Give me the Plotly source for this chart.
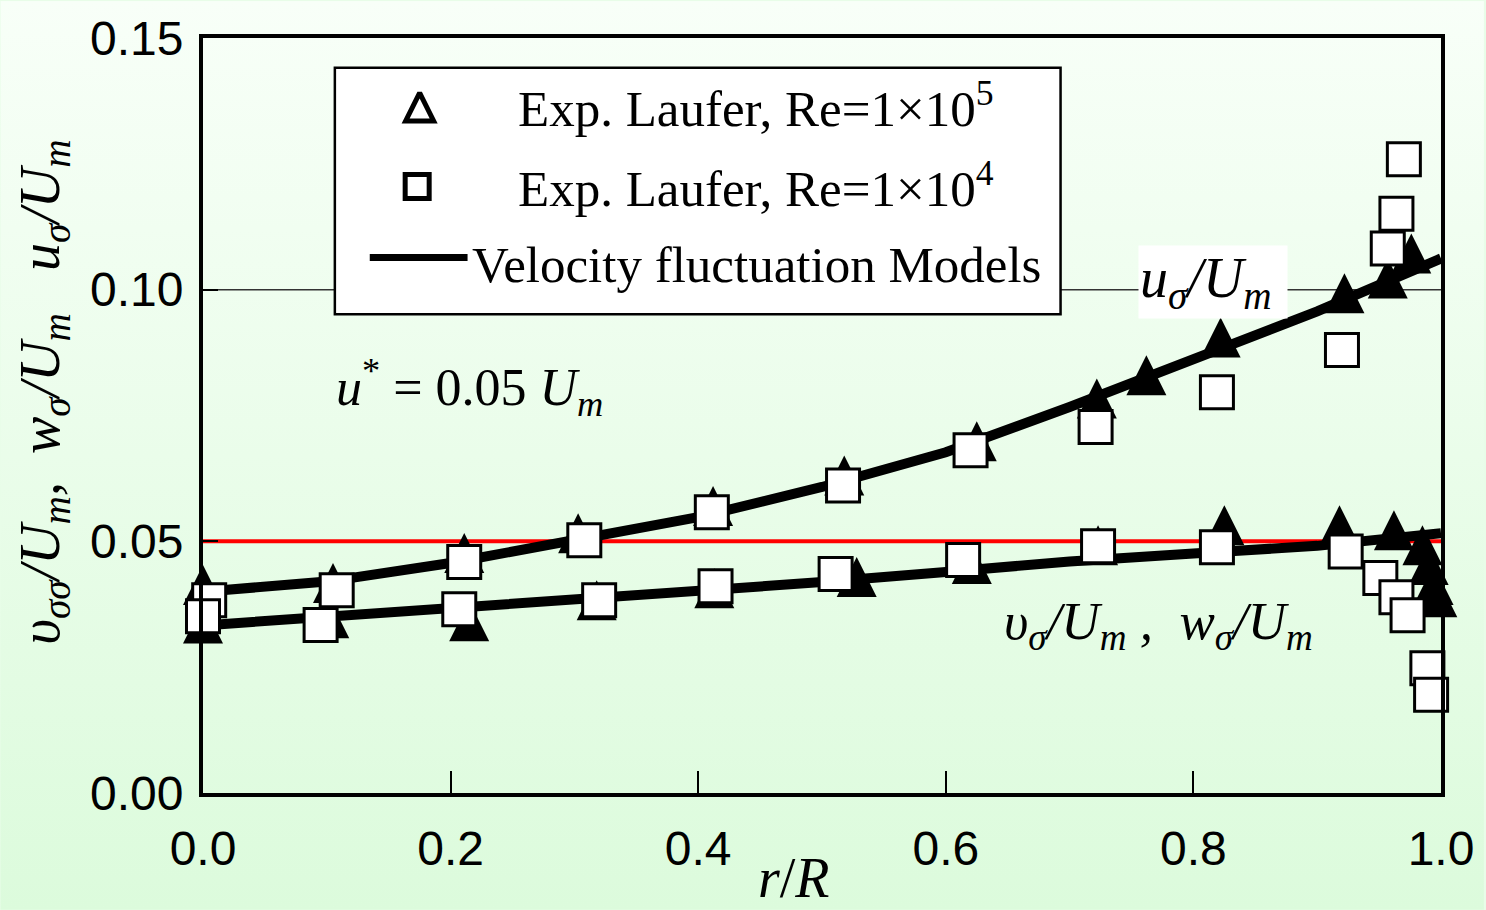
import base64
import plotly.graph_objects as go

# ---------------- data ----------------
r_model = [0.0, 0.1, 0.2, 0.3, 0.4, 0.5, 0.6, 0.7, 0.8, 0.9, 1.0]
u_model = [0.0400, 0.0420, 0.0457, 0.0500, 0.0548, 0.0608, 0.0677, 0.0767, 0.0862, 0.0957, 0.1062]
v_model = [0.0333, 0.0350, 0.0366, 0.0383, 0.0398, 0.0419, 0.0439, 0.0460, 0.0476, 0.0491, 0.0516]

r_tri_u = [0.0, 0.105, 0.211, 0.303, 0.412, 0.518, 0.625, 0.722, 0.762, 0.822, 0.922, 0.957, 0.976]
u_tri = [0.0413, 0.0417, 0.0477, 0.0516, 0.0570, 0.0631, 0.0699, 0.0784, 0.0830, 0.0905, 0.0993, 0.1022, 0.1072]

r_tri_v = [0.0, 0.102, 0.215, 0.318, 0.413, 0.528, 0.621, 0.723, 0.825, 0.918, 0.962, 0.985, 0.990, 0.994, 0.997]
v_tri = [0.0337, 0.0347, 0.0341, 0.0383, 0.0407, 0.0429, 0.0455, 0.0492, 0.0532, 0.0532, 0.0522, 0.0492, 0.0453, 0.0413, 0.0389]

r_sq_u = [0.005, 0.108, 0.211, 0.308, 0.411, 0.517, 0.620, 0.721, 0.819, 0.920, 0.957, 0.964, 0.970]
u_sq = [0.0383, 0.0403, 0.0459, 0.0502, 0.0558, 0.0611, 0.0681, 0.0727, 0.0796, 0.0880, 0.1082, 0.1151, 0.1259]

r_sq_v = [0.0, 0.095, 0.207, 0.320, 0.414, 0.511, 0.614, 0.723, 0.819, 0.923, 0.951, 0.964, 0.973, 0.989, 0.992]
v_sq = [0.0351, 0.0334, 0.0365, 0.0383, 0.0411, 0.0435, 0.0463, 0.0490, 0.0488, 0.0480, 0.0427, 0.0389, 0.0353, 0.0248, 0.0195]

x_ticks = [0.0, 0.2, 0.4, 0.6, 0.8, 1.0]
y_ticks = [0.00, 0.05, 0.10, 0.15]
u_star = 0.05

legend_labels = ["Exp. Laufer, Re=1×10<sup>5</sup>",
                 "Exp. Laufer, Re=1×10<sup>4</sup>",
                 "Velocity fluctuation Models"]

# ---------------- figure ----------------
W, H = 1486, 910
ML, MR, MT, MB = 203, 43, 37, 117
PW, PH = W - ML - MR, H - MT - MB

fig = go.Figure()

tri_marker = dict(symbol="arrow-down", angle=180, size=40, standoff=20, color="black")
sq_marker = dict(symbol="square", size=33, color="white", line=dict(color="black", width=3))

fig.add_trace(go.Scatter(x=r_tri_u, y=u_tri, mode="markers", marker=tri_marker,
                         cliponaxis=False, showlegend=False))
fig.add_trace(go.Scatter(x=r_tri_v, y=v_tri, mode="markers", marker=tri_marker,
                         cliponaxis=False, showlegend=False))
fig.add_trace(go.Scatter(x=r_model, y=u_model, mode="lines", line=dict(color="black", width=10),
                         cliponaxis=False, showlegend=False))
fig.add_trace(go.Scatter(x=r_model, y=v_model, mode="lines", line=dict(color="black", width=10),
                         cliponaxis=False, showlegend=False))
fig.add_trace(go.Scatter(x=r_sq_u, y=u_sq, mode="markers", marker=sq_marker,
                         cliponaxis=False, showlegend=False))
fig.add_trace(go.Scatter(x=r_sq_v, y=v_sq, mode="markers", marker=sq_marker,
                         cliponaxis=False, showlegend=False))

# legend symbols (drawn on top of the legend box)
fig.add_trace(go.Scatter(x=[0.175], y=[0.1363], mode="markers",
                         marker=dict(symbol="arrow-down-open", angle=180, size=28, standoff=14,
                                     color="black", line=dict(color="black", width=5)),
                         cliponaxis=False, showlegend=False))
fig.add_trace(go.Scatter(x=[0.173], y=[0.1205], mode="markers",
                         marker=dict(symbol="square-open", size=24, color="black",
                                     line=dict(color="black", width=5)),
                         cliponaxis=False, showlegend=False))
fig.add_trace(go.Scatter(x=[0.1347, 0.2137], y=[0.1064, 0.1064], mode="lines",
                         line=dict(color="black", width=7),
                         cliponaxis=False, showlegend=False))

# reference lines
fig.add_shape(type="line", xref="x", yref="y", x0=0, x1=1, y0=0.10, y1=0.10,
              line=dict(color="#333333", width=1.5), layer="below")
fig.add_shape(type="line", xref="x", yref="y", x0=0, x1=1, y0=u_star, y1=u_star,
              line=dict(color="#ff0000", width=4), layer="below")
# legend box
fig.add_shape(type="rect", xref="x", yref="y", x0=0.1065, x1=0.6927, y0=0.0951, y1=0.1441,
              line=dict(color="black", width=2.5), fillcolor="white", layer="between")

serif = "Liberation Serif"
ann = []
ann.append(dict(x=0.2532, y=0.1366, text=legend_labels[0], xanchor="left", yanchor="middle"))
ann.append(dict(x=0.2532, y=0.1207, text=legend_labels[1], xanchor="left", yanchor="middle"))
ann.append(dict(x=0.2153, y=0.1050, text=legend_labels[2], xanchor="left", yanchor="middle"))
for a in ann:
    fig.add_annotation(xref="x", yref="y", showarrow=False,
                       font=dict(family=serif, size=51, color="black"), **a)

fig.add_annotation(xref="x", yref="y", x=0.2155, y=0.0805, showarrow=False,
                   xanchor="center", yanchor="middle",
                   text="<i>u</i><sup>*</sup>\u00a0=\u00a00.05\u00a0<i>U<sub>m</sub></i>",
                   font=dict(family=serif, size=52, color="black"))
fig.add_annotation(xref="x", yref="y", x=0.8155, y=0.1015, showarrow=False,
                   xanchor="center", yanchor="middle",
                   text="<i>u<sub>σ</sub>/U<sub>m</sub></i>\u00a0", bgcolor="white",
                   font=dict(family=serif, size=56, color="black"))
fig.add_annotation(xref="x", yref="y", x=0.772, y=0.0334, showarrow=False,
                   xanchor="center", yanchor="middle",
                   text="<i>υ<sub>σ</sub>/U<sub>m</sub>\u00a0,\u00a0\u00a0w<sub>σ</sub>/U<sub>m</sub></i>",
                   font=dict(family=serif, size=53, color="black"))
# axis titles
fig.add_annotation(xref="paper", yref="paper", x=(795 - ML) / PW, y=(MT + PH - 878) / PH,
                   xanchor="center", yanchor="middle",
                   showarrow=False, text="<i>r</i>/<i>R</i>",
                   font=dict(family=serif, size=56, color="black"))
fig.add_annotation(xref="paper", yref="paper", x=(43 - ML) / PW, y=(MT + PH - 392) / PH,
                   xanchor="center", yanchor="middle",
                   showarrow=False, textangle=-90,
                   text="<i>υ<sub>σσ</sub>/U<sub>m</sub>,\u00a0\u00a0w<sub>σ</sub>/U<sub>m</sub>\u00a0\u00a0\u00a0u<sub>σ</sub>/U<sub>m</sub></i>",
                   font=dict(family=serif, size=56, color="black"))

# gradient background
svg = ('<svg xmlns="http://www.w3.org/2000/svg" width="1486" height="910" preserveAspectRatio="none">'
       '<defs><linearGradient id="g" x1="0" y1="0" x2="0" y2="1">'
       '<stop offset="0" stop-color="#f8fff8"/><stop offset="1" stop-color="#dcfbdc"/>'
       '</linearGradient></defs><rect width="1486" height="910" fill="url(#g)"/></svg>')
src = "data:image/svg+xml;base64," + base64.b64encode(svg.encode()).decode()
fig.add_layout_image(dict(source=src, xref="paper", yref="paper",
                          x=-ML / PW, y=1 + MT / PH, sizex=W / PW, sizey=H / PH,
                          xanchor="left", yanchor="top", sizing="stretch", layer="below"))

axis_common = dict(showline=True, linecolor="black", linewidth=4, mirror=True,
                   ticks="inside", tickcolor="black", tickwidth=1.5,
                   showgrid=False, zeroline=False,
                   tickfont=dict(family="Liberation Sans", size=48, color="black"))
fig.update_xaxes(range=[0, 1], tickvals=x_ticks, tickformat=".1f", ticklen=22,
                 ticklabelstandoff=10, **axis_common)
fig.update_yaxes(range=[0, 0.15], tickvals=y_ticks, tickformat=".2f", ticklen=15,
                 ticklabelstandoff=6, **axis_common)

fig.update_layout(width=W, height=H, margin=dict(l=ML, r=MR, t=MT, b=MB),
                  paper_bgcolor="#e8fde8", plot_bgcolor="rgba(0,0,0,0)",
                  showlegend=False)

fig.write_html("out.html")
